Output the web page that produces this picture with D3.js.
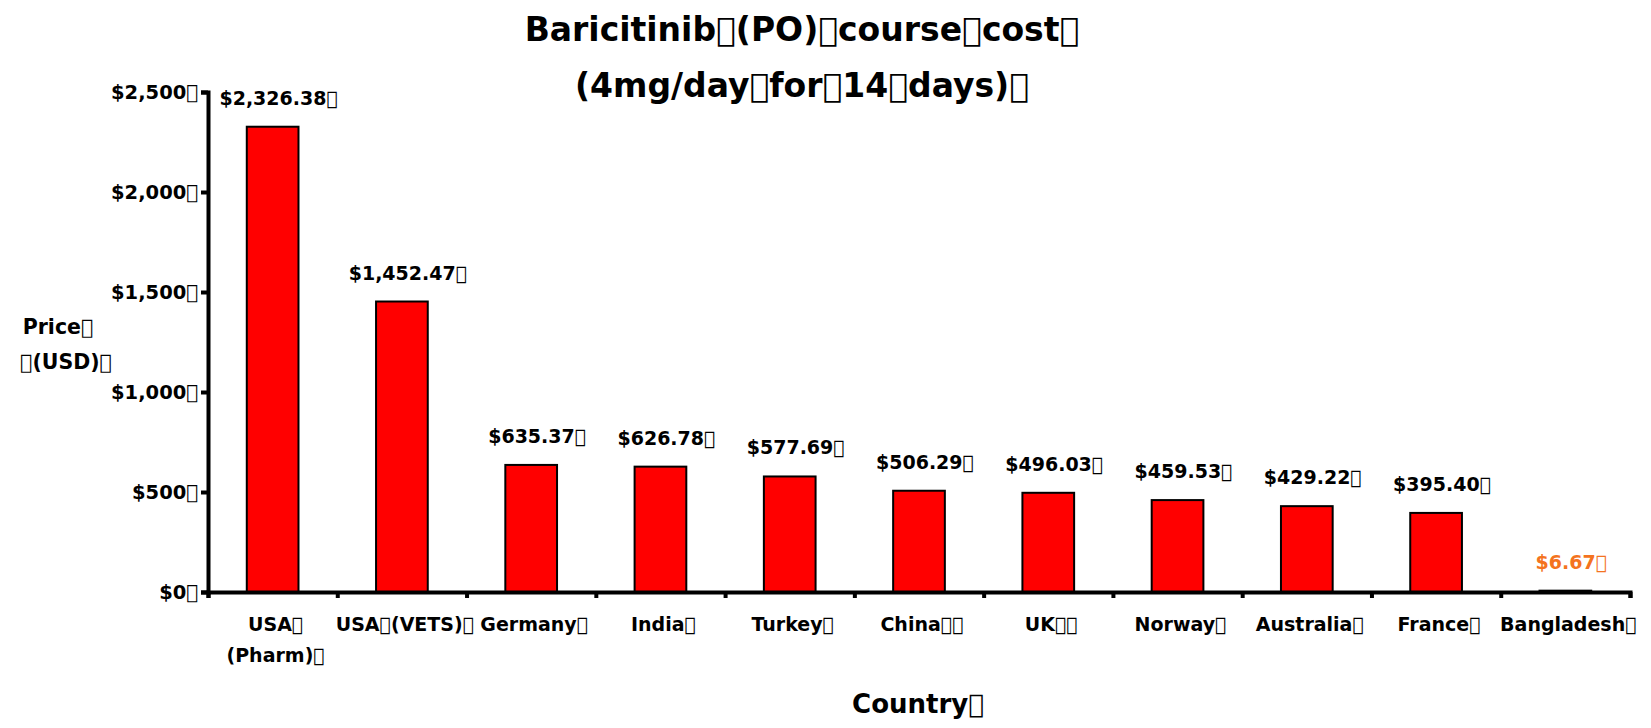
<!DOCTYPE html>
<html>
<head>
<meta charset="utf-8">
<script src="https://cdn.jsdelivr.net/npm/d3@7"></script>
<style>
  body { margin: 0; background: #fff; }
  text { font-family: "DejaVu Sans", sans-serif; font-weight: bold; }
</style>
</head>
<body>
<div id="chart"></div>
<script>
// odd glyph that shows up as a box in the original slide text
const tf = "\uF020";

const countries = ["USA" + tf + "\n(Pharm)" + tf, "USA" + tf + "(VETS)" + tf, "Germany" + tf, "India" + tf,
  "Turkey" + tf, "China" + tf + tf, "UK" + tf + tf, "Norway" + tf, "Australia" + tf, "France" + tf, "Bangladesh" + tf];
const prices = [2326.38, 1452.47, 635.37, 626.78, 577.69, 506.29, 496.03, 459.53, 429.22, 395.40, 6.67];
const yTicks = [0, 500, 1000, 1500, 2000, 2500];
const titleLines = ["Baricitinib" + tf + "(PO)" + tf + "course" + tf + "cost" + tf, "(4mg/day" + tf + "for" + tf + "14" + tf + "days)" + tf];
const yTitle = ["Price" + tf, tf + "(USD)" + tf];
const xTitle = "Country" + tf;

const width = 1651, height = 728;
const margin = {top: 92, right: 21, bottom: 136, left: 208};

const svg = d3.select("#chart")
  .append("svg")
    .attr("width", width)
    .attr("height", height);

const x = d3.scaleBand()
  .domain(d3.range(countries.length))
  .range([margin.left, width - margin.right])
  .paddingInner(0.6)
  .paddingOuter(0.3);

// slot boundaries for the tick marks
const xb = d3.scaleLinear()
  .domain([0, countries.length])
  .range([margin.left, width - margin.right]);

const y = d3.scaleLinear()
  .domain([0, 2500])
  .range([height - margin.bottom, margin.top]);

// bars
svg.append("g")
  .selectAll("rect")
  .data(prices)
  .enter().append("rect")
    .attr("x", (d, i) => x(i))
    .attr("y", d => y(d))
    .attr("width", x.bandwidth())
    .attr("height", d => y(0) - y(d))
    .attr("fill", "#ff0000")
    .attr("stroke", "#000")
    .attr("stroke-width", 2);

// value labels
svg.append("g")
  .selectAll("text")
  .data(prices)
  .enter().append("text")
    .attr("x", (d, i) => x(i) + x.bandwidth() / 2 + 6)
    .attr("y", d => y(d) - 22)
    .attr("text-anchor", "middle")
    .attr("font-size", 19)
    .attr("fill", (d, i) => i == prices.length - 1 ? "#f47320" : "#000")
    .text(d => "$" + d3.format(",.2f")(d) + tf);

// y axis
const yAxis = svg.append("g")
  .attr("transform", "translate(" + margin.left + ",0)")
  .call(d3.axisLeft(y).tickValues(yTicks).tickSize(7).tickPadding(3)
    .tickFormat(d => "$" + d3.format(",")(d) + tf));
yAxis.select(".domain").attr("stroke-width", 4);
yAxis.selectAll(".tick line").attr("stroke-width", 4);
yAxis.selectAll(".tick text").attr("font-size", 19.5).attr("fill", "#000")
  .attr("font-family", "DejaVu Sans");

// x axis ticks
const xAxis = svg.append("g")
  .attr("transform", "translate(0," + y(0) + ")")
  .call(d3.axisBottom(xb).tickValues(d3.range(countries.length + 1)).tickSize(6).tickFormat(""));
xAxis.select(".domain").attr("stroke-width", 4);
xAxis.selectAll(".tick line").attr("stroke-width", 4);

// x labels
const xl = svg.append("g")
  .selectAll("text")
  .data(countries)
  .enter().append("text")
    .attr("x", (d, i) => x(i) + x.bandwidth() / 2 + 3)
    .attr("y", 631)
    .attr("text-anchor", "middle")
    .attr("font-size", 19);
xl.selectAll("tspan")
  .data(d => d.split("\n"))
  .enter().append("tspan")
    .attr("x", function() { return this.parentNode.getAttribute("x"); })
    .attr("dy", (d, i) => i == 0 ? 0 : 31)
    .text(d => d);

// title
svg.append("text")
  .attr("text-anchor", "middle")
  .attr("font-size", 33)
  .selectAll("tspan")
  .data(titleLines)
  .enter().append("tspan")
    .attr("x", 802)
    .attr("y", (d, i) => 41 + i * 56)
    .text(d => d);

// axis titles
svg.append("text")
  .attr("text-anchor", "middle")
  .attr("font-size", 20.5)
  .selectAll("tspan")
  .data(yTitle)
  .enter().append("tspan")
    .attr("x", (d, i) => i == 0 ? 58 : 66)
    .attr("y", (d, i) => 334 + i * 35)
    .text(d => d);

svg.append("text")
  .attr("x", 918)
  .attr("y", 713)
  .attr("text-anchor", "middle")
  .attr("font-size", 26)
  .text(xTitle);
</script>
</body>
</html>
